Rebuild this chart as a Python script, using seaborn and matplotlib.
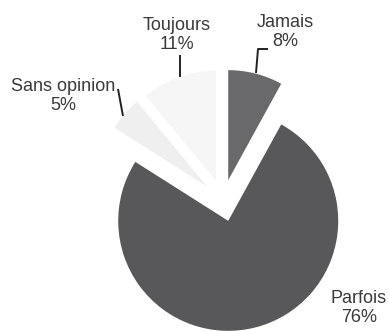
import matplotlib
matplotlib.use("Agg")
import matplotlib.pyplot as plt
import seaborn as sns

# Survey answers, in clockwise order from 12 o'clock
categories = ["Jamais", "Parfois", "Sans opinion", "Toujours"]
shares = [8, 76, 5, 11]
slice_colors = ["#69696b", "#58585a", "#efefef", "#f6f6f6"]

sns.set_theme(style="white")
plt.rcParams["font.family"] = ["Liberation Sans", "DejaVu Sans"]

W, H = 389, 331
fig = plt.figure(figsize=(W / 100, H / 100), dpi=100)
ax = fig.add_axes([0, 0, 1, 1])

# pixel-like coordinates (origin bottom-left)
def py(y):
    return H - y

center = (223, py(200.5))
radius = 110
offset = 21

ax.pie(
    shares,
    colors=slice_colors,
    startangle=90,
    counterclock=False,
    radius=radius,
    center=center,
    explode=[offset] * len(shares),
    wedgeprops=dict(linewidth=0),
    frame=False,
)
ax.set_xlim(0, W)
ax.set_ylim(0, H)
ax.set_aspect("auto")
ax.axis("off")

text_color = "#3a3a3a"
label_pos = {
    "Jamais": (285, 32),
    "Parfois": (359, 308),
    "Sans opinion": (63, 96),
    "Toujours": (177, 35),
}
for name, val in zip(categories, shares):
    x, y = label_pos[name]
    ax.text(x, py(y), f"{name}\n{val}%", ha="center", va="center",
            multialignment="center", fontsize=13, color=text_color,
            linespacing=1.15)

# leader lines
line_kw = dict(color="#222222", linewidth=1.4, solid_capstyle="butt")
ax.plot([256, 258, 268], [py(73), py(49), py(49)], **line_kw)
ax.plot([180, 180], [py(55), py(77)], **line_kw)
ax.plot([118, 123], [py(89), py(116)], **line_kw)

fig.savefig("out.png", dpi=100, facecolor="white")
